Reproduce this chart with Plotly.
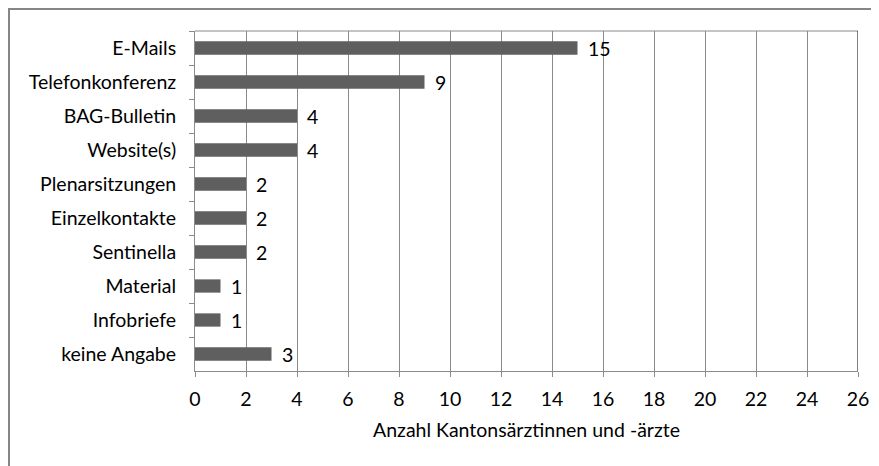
import plotly.graph_objects as go

categories = ["E-Mails", "Telefonkonferenz", "BAG-Bulletin", "Website(s)", "Plenarsitzungen",
              "Einzelkontakte", "Sentinella", "Material", "Infobriefe", "keine Angabe"]
values = [15, 9, 4, 4, 2, 2, 2, 1, 1, 3]
x_ticks = list(range(0, 27, 2))
x_title = "Anzahl Kantonsärztinnen und -ärzte"

# page body has an 8px margin, so the figure is drawn 8px in from the window edge
W, H = 871, 458
L, T = 187, 23
R = W - (858 - 8)
B = H - (371 - 8)
pw = W - L - R
ph = H - T - B

font = "Lato, 'Open Sans', sans-serif"
FS = 19.5

fig = go.Figure(go.Bar(
    x=values, y=categories, orientation="h",
    marker=dict(color="#5f5f5f", line=dict(width=0)),
    width=0.39, hoverinfo="x+y",
))

annotations = [
    dict(x=v, y=c, xref="x", yref="y", text=str(v), showarrow=False,
         xanchor="left", yanchor="middle", xshift=8,
         font=dict(family=font, size=FS, color="#000000"))
    for c, v in zip(categories, values)
]

def px_to_paper_x(px):
    return (px - L) / pw

def px_to_paper_y(py):
    return (H - B - py) / ph

fig.update_layout(
    width=W, height=H,
    margin=dict(l=L, r=R, t=T, b=B, autoexpand=False),
    paper_bgcolor="white", plot_bgcolor="white",
    showlegend=False,
    font=dict(family=font, size=FS, color="#000000"),
    xaxis=dict(
        range=[0, 26], tickvals=x_ticks, ticktext=[str(t) for t in x_ticks],
        showgrid=True, gridcolor="#8a8a8a", gridwidth=1,
        zeroline=False, showline=True, linecolor="#8a8a8a", linewidth=1,
        ticks="outside", ticklen=5, tickcolor="#8a8a8a",
        title=dict(text=x_title, font=dict(size=FS), standoff=13),
        tickfont=dict(size=FS), ticklabelstandoff=6,
    ),
    yaxis=dict(
        categoryorder="array", categoryarray=categories, autorange="reversed",
        showgrid=False, zeroline=False, showline=True, linecolor="#8a8a8a", linewidth=1,
        ticks="outside", ticklen=5, tickcolor="#8a8a8a", tickson="boundaries",
        tickfont=dict(size=FS), ticklabelstandoff=14,
    ),
    annotations=annotations,
    shapes=[
        dict(type="line", xref="paper", yref="paper", x0=0, x1=1, y0=1, y1=1,
             line=dict(color="#8a8a8a", width=1)),
        dict(type="line", xref="x", yref="paper", x0=26, x1=26, y0=0, y1=1,
             line=dict(color="#000000", width=1)),
        dict(type="rect", xref="paper", yref="paper",
             x0=px_to_paper_x(1), x1=px_to_paper_x(W + 50),
             y0=px_to_paper_y(H + 50), y1=px_to_paper_y(1),
             line=dict(color="#868686", width=2), fillcolor="rgba(0,0,0,0)", layer="above"),
    ],
)

fig.write_html("out.html")
